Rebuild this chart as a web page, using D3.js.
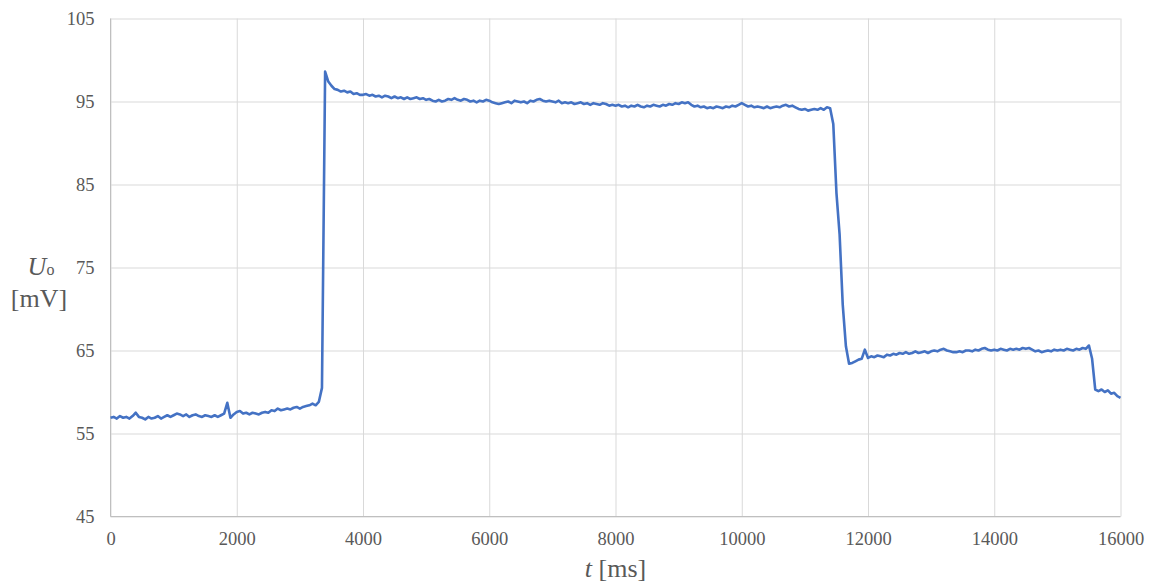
<!DOCTYPE html>
<html>
<head>
<meta charset="utf-8">
<script src="https://cdn.jsdelivr.net/npm/d3@7"></script>
<style>
  html, body { margin: 0; padding: 0; background: #ffffff; }
  svg { display: block; }
</style>
</head>
<body>
<svg id="chart" width="1154" height="588"></svg>
<script>
// ---- data ----
const xTicks = [0, 2000, 4000, 6000, 8000, 10000, 12000, 14000, 16000];
const yTicks = [45, 55, 65, 75, 85, 95, 105];
const xDomain = [0, 16000];
const yDomain = [45, 105];
const sampleStartMs = 0;
const sampleStepMs = 50;
// U_o [mV], one sample every 50 ms, rows of 1000 ms
const voltage = [
  56.9, 57.0, 56.8, 57.1, 56.9, 57.0, 56.8, 57.1, 57.5, 57.0, 56.9, 56.7, 57.0, 56.8, 56.9, 57.1, 56.8, 57.0, 57.2, 57.0,
  57.2, 57.4, 57.3, 57.1, 57.3, 57.0, 57.2, 57.3, 57.1, 57.0, 57.2, 57.1, 57.0, 57.2, 57.0, 57.2, 57.4, 58.7, 56.9, 57.3,
  57.6, 57.7, 57.4, 57.5, 57.3, 57.5, 57.4, 57.3, 57.5, 57.6, 57.5, 57.8, 57.7, 58.0, 57.8, 57.9, 58.0, 57.9, 58.1, 58.2,
  58.0, 58.2, 58.3, 58.4, 58.6, 58.4, 58.8, 60.5, 98.6, 97.4, 96.9, 96.5, 96.4, 96.2, 96.3, 96.1, 96.2, 95.9, 96.0, 95.8,
  95.8, 95.9, 95.7, 95.8, 95.6, 95.7, 95.5, 95.7, 95.6, 95.4, 95.6, 95.4, 95.5, 95.3, 95.5, 95.3, 95.4, 95.5, 95.3, 95.4,
  95.2, 95.3, 95.1, 95.0, 95.2, 95.0, 95.1, 95.3, 95.2, 95.4, 95.2, 95.1, 95.3, 95.2, 95.0, 95.1, 94.9, 95.1, 95.0, 95.2,
  95.1, 94.9, 94.8, 94.7, 94.8, 94.9, 95.0, 94.8, 95.1, 95.0, 94.9, 95.0, 94.8, 95.1, 95.0, 95.2, 95.3, 95.1, 95.0, 95.1,
  95.0, 94.9, 95.1, 94.8, 94.9, 94.8, 94.9, 94.7, 94.8, 94.9, 94.7, 94.8, 94.6, 94.8, 94.7, 94.6, 94.8, 94.7, 94.5, 94.6,
  94.5, 94.6, 94.4, 94.5, 94.3, 94.5, 94.4, 94.6, 94.4, 94.3, 94.5, 94.4, 94.6, 94.5, 94.4, 94.6, 94.5, 94.7, 94.6, 94.8,
  94.7, 94.9, 94.8, 94.9, 94.6, 94.4, 94.5, 94.3, 94.4, 94.2, 94.3, 94.2, 94.4, 94.3, 94.2, 94.4, 94.3, 94.5, 94.4, 94.6,
  94.8, 94.6, 94.4, 94.5, 94.3, 94.4, 94.3, 94.2, 94.4, 94.2, 94.3, 94.4, 94.3, 94.5, 94.6, 94.4, 94.5, 94.3, 94.1, 94.0,
  94.1, 93.9, 94.0, 94.1, 94.0, 94.2, 94.0, 94.3, 94.2, 92.3, 84.0, 79.0, 70.5, 65.5, 63.4, 63.5, 63.7, 63.9, 64.0, 65.1,
  64.1, 64.3, 64.2, 64.4, 64.3, 64.2, 64.5, 64.4, 64.6, 64.5, 64.7, 64.6, 64.8, 64.6, 64.7, 64.9, 64.7, 64.8, 64.9, 64.7,
  64.9, 65.0, 64.9, 65.1, 65.2, 65.0, 64.9, 64.8, 64.8, 64.9, 64.8, 65.0, 65.0, 64.9, 65.1, 65.0, 65.2, 65.3, 65.1, 65.0,
  65.1, 65.0, 65.2, 65.1, 65.0, 65.2, 65.1, 65.2, 65.1, 65.3, 65.2, 65.3, 65.1, 64.9, 65.0, 64.8, 64.9, 65.0, 64.9, 65.1,
  65.0, 65.1, 65.0, 65.2, 65.1, 65.0, 65.2, 65.1, 65.3, 65.2, 65.6, 64.0, 60.3, 60.1, 60.3, 60.0, 60.2, 59.8, 59.9, 59.5,
  59.3
];
const xTitleItalic = "t";
const xTitleRest = " [ms]";
const yTitleMain = "U";
const yTitleSub = "o";
const yTitleUnit = "[mV]";

// ---- drawing ----
(function () {
const svg = d3.select("#chart");
const pLeft = 110.5, pRight = 1120.5, pTop = 18.5, pBottom = 516.5;

const x = d3.scaleLinear().domain(xDomain).range([pLeft, pRight]);
const y = d3.scaleLinear().domain(yDomain).range([pBottom, pTop]);

const serif = "'Liberation Serif', 'Times New Roman', serif";

// horizontal gridlines
svg.append("g")
  .attr("transform", `translate(${pLeft},0)`)
  .call(d3.axisLeft(y).tickValues(yTicks).tickSize(-(pRight - pLeft)).tickFormat(""))
  .call(g => g.select(".domain").remove())
  .call(g => g.selectAll(".tick line").attr("stroke", "#d9d9d9").attr("stroke-width", 1));

// vertical gridlines
svg.append("g")
  .attr("transform", `translate(0,${pBottom})`)
  .call(d3.axisBottom(x).tickValues(xTicks).tickSize(-(pBottom - pTop)).tickFormat(""))
  .call(g => g.select(".domain").remove())
  .call(g => g.selectAll(".tick line").attr("stroke", "#d9d9d9").attr("stroke-width", 1));

// axis lines
svg.append("line").attr("x1", pLeft).attr("x2", pLeft).attr("y1", pTop).attr("y2", pBottom)
  .attr("stroke", "#bfbfbf").attr("stroke-width", 1);
svg.append("line").attr("x1", pLeft).attr("x2", pRight).attr("y1", pBottom).attr("y2", pBottom)
  .attr("stroke", "#bfbfbf").attr("stroke-width", 1);

// y tick labels
svg.append("g")
  .attr("transform", `translate(${pLeft},0)`)
  .call(d3.axisLeft(y).tickValues(yTicks).tickSize(0).tickPadding(16).tickFormat(d3.format("d")))
  .call(g => g.select(".domain").remove())
  .call(g => g.selectAll(".tick text")
    .attr("font-family", serif).attr("font-size", 18.5).attr("fill", "#595959")
    .attr("dy", "0.34em"));

// x tick labels
svg.append("g")
  .attr("transform", `translate(0,${pBottom})`)
  .call(d3.axisBottom(x).tickValues(xTicks).tickSize(0).tickPadding(15).tickFormat(d3.format("d")))
  .call(g => g.select(".domain").remove())
  .call(g => g.selectAll(".tick text")
    .attr("font-family", serif).attr("font-size", 18.5).attr("fill", "#595959"));

// series
const data = voltage.map((v, i) => ({ t: sampleStartMs + i * sampleStepMs, v }));
const line = d3.line().x(d => x(d.t)).y(d => y(d.v));
svg.append("path")
  .datum(data)
  .attr("d", line)
  .attr("fill", "none")
  .attr("stroke", "#4472C4")
  .attr("stroke-width", 2.6)
  .attr("stroke-linejoin", "round");

// x axis title
const xt = svg.append("text")
  .attr("x", (pLeft + pRight) / 2).attr("y", 577)
  .attr("text-anchor", "middle")
  .attr("font-family", serif).attr("font-size", 26).attr("fill", "#595959");
xt.append("tspan").attr("font-style", "italic").text(xTitleItalic);
xt.append("tspan").text(xTitleRest);

// y axis title
const yt = svg.append("text")
  .attr("x", 41).attr("y", 275)
  .attr("text-anchor", "middle")
  .attr("font-family", serif).attr("font-size", 26).attr("fill", "#595959");
yt.append("tspan").attr("font-style", "italic").text(yTitleMain);
yt.append("tspan").attr("font-size", 16).text(yTitleSub);

svg.append("text")
  .attr("x", 39).attr("y", 307)
  .attr("text-anchor", "middle")
  .attr("font-family", serif).attr("font-size", 26).attr("fill", "#595959")
  .text(yTitleUnit);
})();
</script>
</body>
</html>
